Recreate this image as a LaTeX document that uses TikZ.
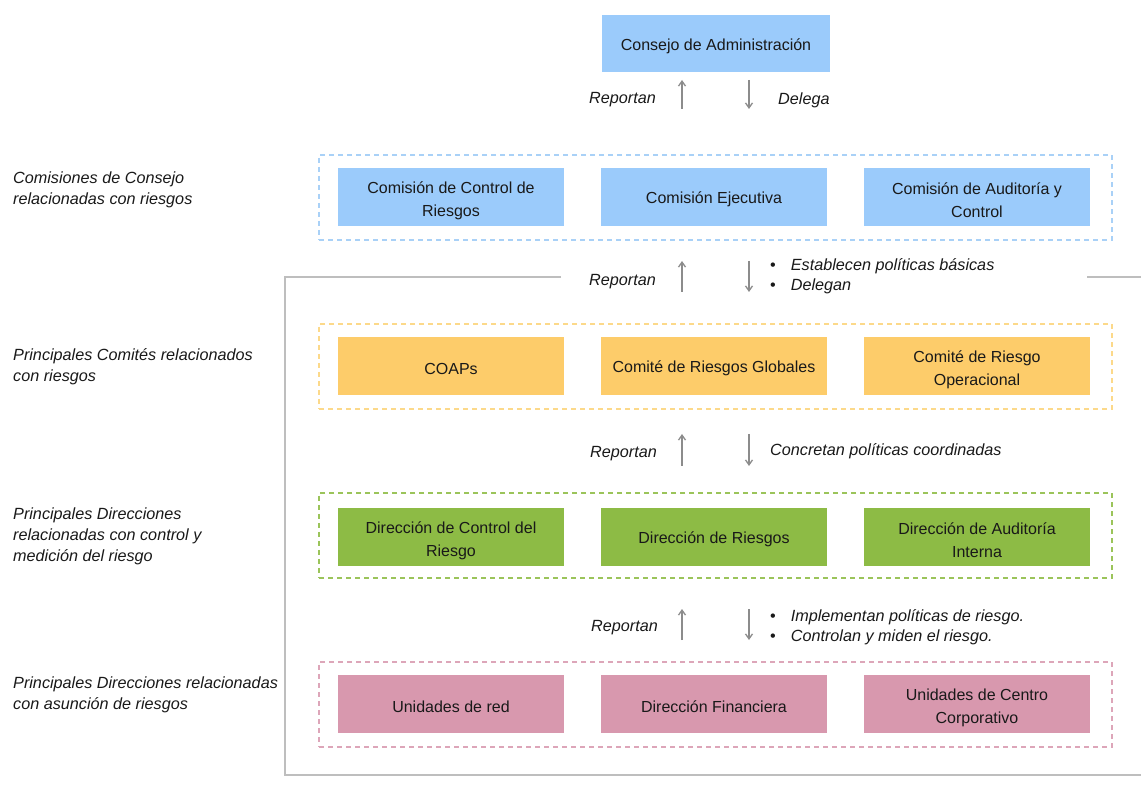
\documentclass[tikz,border=0pt]{standalone}
\usepackage{fontspec}
\setmainfont{Liberation Sans}
\usetikzlibrary{arrows.meta}
\definecolor{cblue}{HTML}{9BCBFB}
\definecolor{corange}{HTML}{FDCC6A}
\definecolor{cgreen}{HTML}{8DBB45}
\definecolor{cpink}{HTML}{D898AE}
\definecolor{dblue}{HTML}{A9D1F7}
\definecolor{dorange}{HTML}{FCD98A}
\definecolor{dgreen}{HTML}{9BC45A}
\definecolor{dpink}{HTML}{DDA6B9}
\definecolor{agray}{HTML}{8C8C8C}
\definecolor{fgray}{HTML}{BEBEBE}
\tikzset{
  unit/.style={inner sep=0pt, minimum width=226pt, minimum height=58pt},
  btxt/.style={inner sep=0pt, align=center, font=\fontsize{16}{23}\selectfont, text=black!90},
  group/.style={draw=#1, dashed, dash pattern=on 5pt off 4pt, line width=1.2pt, minimum width=793pt, minimum height=85pt, inner sep=0pt},
  lbl/.style={font=\fontsize{16.2}{20.8}\selectfont\itshape, align=left, anchor=west, inner sep=0pt, text=black!90},
  albl/.style={font=\fontsize{16.2}{20}\selectfont\itshape, inner sep=0pt, text=black!90},
  arr/.style={draw=agray, line width=1.3pt, -{Straight Barb[length=5pt,width=7pt]}},
}
\begin{document}
\begin{tikzpicture}[x=1pt,y=-1pt]
\useasboundingbox (0,0) rectangle (1141,791);
% frame
\coordinate (f1) at (561,277);
\coordinate (f2) at (285,277);
\coordinate (f3) at (285,775);
\coordinate (f4) at (1141,775);
\coordinate (f5) at (1087,277);
\coordinate (f6) at (1141,277);
\draw[fgray, line width=1.5pt] (f1) -- (f2) -- (f3) -- (f4);
\draw[fgray, line width=1.5pt] (f5) -- (f6);
% top
\node[unit, fill=cblue, minimum width=228pt, minimum height=57pt] (ca) at (716,43.5) {};
\node[btxt] at ([yshift=-3pt]ca) {Consejo de Administración};
% groups
\node[group=dblue] (g1) at (715.5,197.5) {};
\node[group=dorange] (g2) at (715.5,366.5) {};
\node[group=dgreen] (g3) at (715.5,535.5) {};
\node[group=dpink] (g4) at (715.5,704.5) {};
% row 1
\node[unit, fill=cblue] (b11) at (451,197) {};
\node[unit, fill=cblue] (b12) at (714,197) {};
\node[unit, fill=cblue] (b13) at (977,197) {};
% row 2
\node[unit, fill=corange] (b21) at (451,366) {};
\node[unit, fill=corange] (b22) at (714,366) {};
\node[unit, fill=corange] (b23) at (977,366) {};
% row 3
\node[unit, fill=cgreen] (b31) at (451,537) {};
\node[unit, fill=cgreen] (b32) at (714,537) {};
\node[unit, fill=cgreen] (b33) at (977,537) {};
% row 4
\node[unit, fill=cpink] (b41) at (451,704) {};
\node[unit, fill=cpink] (b42) at (714,704) {};
\node[unit, fill=cpink] (b43) at (977,704) {};
% box texts
\node[btxt] at ([yshift=-3.5pt]b11) {Comisión de Control de\\Riesgos};
\node[btxt] at ([yshift=-2.5pt]b12) {Comisión Ejecutiva};
\node[btxt] at ([yshift=-3.5pt]b13) {Comisión de Auditoría y\\Control};
\node[btxt] at ([yshift=-2.5pt]b21) {COAPs};
\node[btxt] at ([yshift=-2.5pt]b22) {Comité de Riesgos Globales};
\node[btxt] at ([yshift=-3.5pt]b23) {Comité de Riesgo\\Operacional};
\node[btxt] at ([yshift=-3.5pt]b31) {Dirección de Control del\\Riesgo};
\node[btxt] at ([yshift=-2.5pt]b32) {Dirección de Riesgos};
\node[btxt] at ([yshift=-3.5pt]b33) {Dirección de Auditoría\\Interna};
\node[btxt] at ([yshift=-2.5pt]b41) {Unidades de red};
\node[btxt] at ([yshift=-2.5pt]b42) {Dirección Financiera};
\node[btxt] at ([yshift=-3.5pt]b43) {Unidades de Centro\\Corporativo};
% left labels
\node[lbl] (l1) at (13,189.5) {Comisiones de Consejo\\relacionadas con riesgos};
\node[lbl] (l2) at (13,366.5) {Principales Comités relacionados\\con riesgos};
\node[lbl] (l3) at (13,536.5) {Principales Direcciones\\relacionadas con control y\\medición del riesgo};
\node[lbl] (l4) at (13,694.5) {Principales Direcciones relacionadas\\con asunción de riesgos};
% arrows
\foreach \i/\ya/\yb in {1/109/80, 2/292/261, 3/466/434, 4/640/609} {
  \coordinate (u\i s) at (682,\ya);
  \coordinate (u\i e) at (682,\yb);
  \coordinate (d\i s) at (749,\yb);
  \coordinate (d\i e) at (749,\ya);
  \draw[arr] (u\i s) -- (u\i e);
  \draw[arr] (d\i s) -- (d\i e);
}
% arrow labels
\node[albl, anchor=east] (r1) at (656,100) {Reportan};
\node[albl, anchor=west] (dl) at (778,100) {Delega};
\node[albl, anchor=east] (r2) at (656,282) {Reportan};
\node[albl, anchor=east] (r3) at (657,454) {Reportan};
\node[albl, anchor=east] (r4) at (658,628) {Reportan};
\node[albl, anchor=west] (c3) at (770,451) {Concretan políticas coordinadas};
\node[albl, anchor=west, align=left] (c2) at (770,276.5) {\upshape•\hspace{15pt}\itshape Establecen políticas básicas\\\upshape•\hspace{15pt}\itshape Delegan};
\node[albl, anchor=west, align=left] (c4) at (770,627.5) {\upshape•\hspace{15pt}\itshape Implementan políticas de riesgo.\\\upshape•\hspace{15pt}\itshape Controlan y miden el riesgo.};
\end{tikzpicture}
\end{document}
